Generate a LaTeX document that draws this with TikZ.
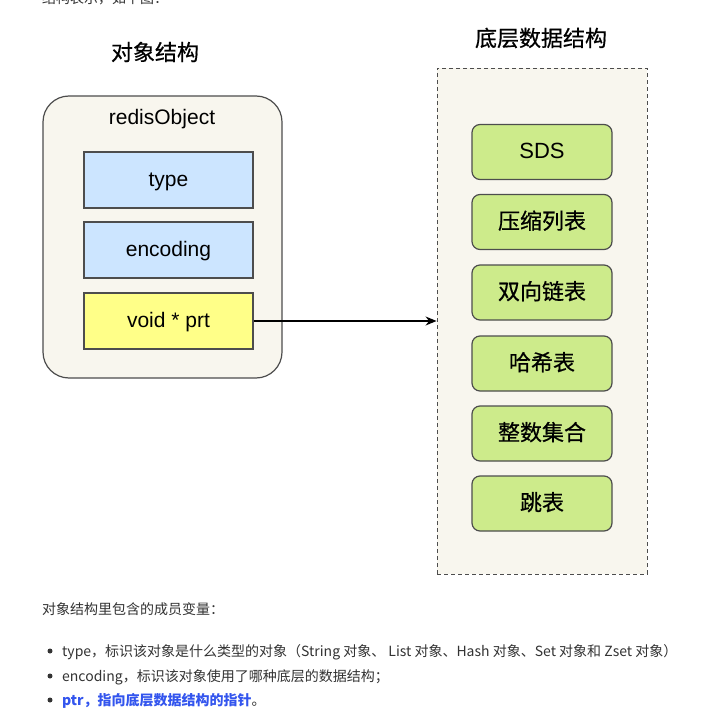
\documentclass[tikz,border=0pt]{standalone}
\usepackage{fontspec}
\setmainfont{Liberation Sans}
\newfontfamily\cjk{Noto Sans CJK SC}
\newfontfamily\cjkmed[FakeBold=0.6]{Noto Sans CJK SC}
\usetikzlibrary{arrows.meta}
\definecolor{cream}{HTML}{F8F6EE}
\definecolor{edge}{HTML}{4D4D4D}
\definecolor{fieldblue}{HTML}{CCE5FF}
\definecolor{fieldyellow}{HTML}{FFFF88}
\definecolor{dsgreen}{HTML}{CDEB8B}
\definecolor{bodytext}{HTML}{333333}
\definecolor{linkblue}{HTML}{3355EE}
\tikzset{
  field/.style={draw=edge, line width=1.2pt, minimum width=169pt, minimum height=56pt, font=\fontsize{21}{24}\selectfont, inner sep=0pt, text height=14pt, text depth=1pt},
  dsbox/.style={draw=edge, line width=1.2pt, fill=dsgreen, rounded corners=8pt, minimum width=140pt, minimum height=55pt, font=\cjkmed\fontsize{22}{26}\selectfont, inner sep=0pt, text height=17pt, text depth=3pt},
  title/.style={font=\cjkmed\fontsize{22}{26}\selectfont, inner sep=0pt},
  para/.style={font=\cjk\fontsize{14}{17}\selectfont, text=bodytext, inner sep=0pt, anchor=base west},
  bullet/.style={circle, fill=bodytext, inner sep=0pt, minimum size=5pt}
}
\begin{document}
\begin{tikzpicture}[x=1pt,y=-1pt]
\path[use as bounding box, fill=white] (0,0) rectangle (709,722);
\clip (0,0) rectangle (709,722);
% cut-off text at top (as in the reference)
\node[para] (top) at (42,4) {结构表示，如下图：};
% titles
\node[title] (t1) at (155,52) {对象结构};
\node[title] (t2) at (541,38) {底层数据结构};
% redisObject box
\node[draw=edge, line width=1.2pt, fill=cream, rounded corners=26pt, minimum width=239pt, minimum height=282pt, inner sep=0pt] (obj) at (162.5,237) {};
\node[font=\fontsize{21}{24}\selectfont, inner sep=0pt] (objname) at (162,119) {redisObject};
\node[field, fill=fieldblue] (type) at (168.5,180) {type};
\node[field, fill=fieldblue] (enc) at (168.5,250) {encoding};
\node[field, fill=fieldyellow] (ptr) at (168.5,321) {void * prt};
% data structure container
\node[draw=edge, line width=0.9pt, dash pattern=on 4pt off 3pt, fill=cream, minimum width=210pt, minimum height=506pt, inner sep=0pt] (ds) at (542,321) {};
\node[dsbox, font=\fontsize{22}{26}\selectfont] (sds) at (542,152) {SDS};
\node[dsbox] (zip) at (542,222) {压缩列表};
\node[dsbox] (dl) at (542,292.5) {双向链表};
\node[dsbox] (hash) at (542,363.5) {哈希表};
\node[dsbox] (ints) at (542,433.5) {整数集合};
\node[dsbox] (skip) at (542,503.5) {跳表};
% arrow
\draw[line width=1.2pt, -{Stealth[length=11pt,width=9pt]}] (ptr.east) -- (ds.west |- ptr.east);
% body text
\node[para] (p0) at (42,614) {对象结构里包含的成员变量：};
\node[bullet] (b1) at (50,651) {};
\node[bullet] (b2) at (50,676) {};
\node[bullet] (b3) at (50,700) {};
\node[para] (l1) at (62,656) {type，标识该对象是什么类型的对象（String 对象、 List 对象、Hash 对象、Set 对象和 Zset 对象）};
\node[para] (l2) at (62,681) {encoding，标识该对象使用了哪种底层的数据结构；};
\node[para] (l3) at (62,705) {\textcolor{linkblue}{\bfseries ptr，指向底层数据结构的指针}。};
\end{tikzpicture}
\end{document}
